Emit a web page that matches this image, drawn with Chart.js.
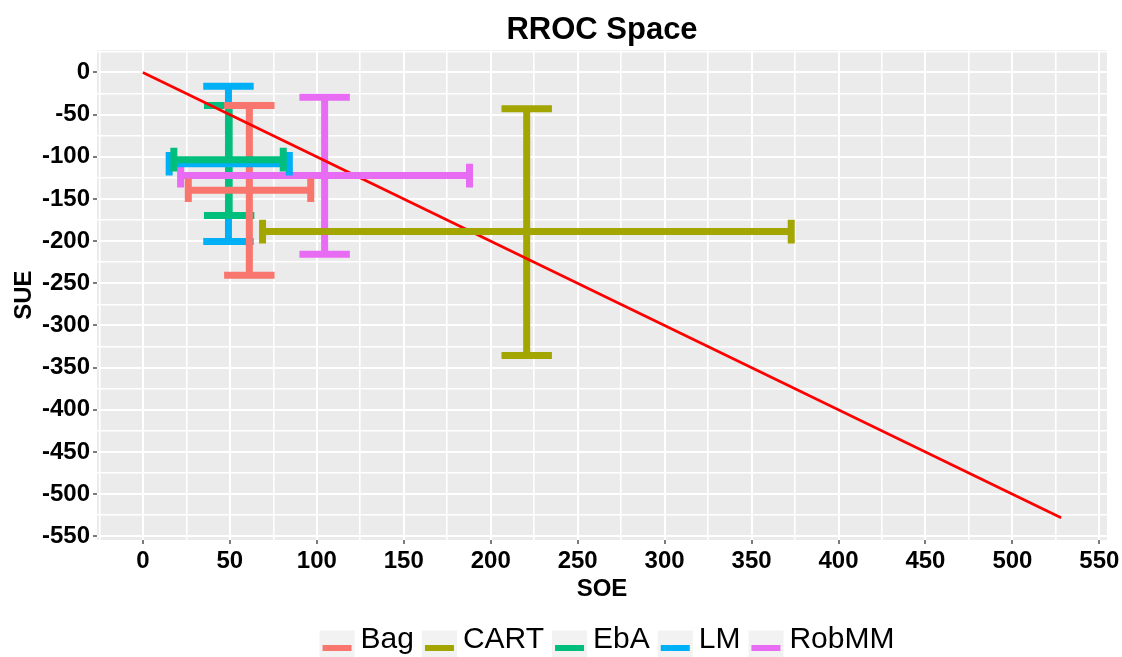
<!DOCTYPE html>
<html>
<head>
<meta charset="utf-8">
<script src="https://cdn.jsdelivr.net/npm/chart.js@4"></script>
<style>
  html, body { margin: 0; padding: 0; background: #fff; }
  #wrap { width: 1122px; height: 657px; }
</style>
</head>
<body>
<div id="wrap"><canvas id="rroc"></canvas></div>
<script>
var models = ['Bag', 'CART', 'EbA', 'LM', 'RobMM'];
var colors = ['#F8766D', '#A3A500', '#00BF7D', '#00B0F6', '#E76BF3'];
// SOE (x) and SUE (y) centre and interval ends per model
var soeMean = [61.2, 220.7, 49.6, 49.2, 104.5];
var soeLow = [26.1, 68.8, 17.8, 15.1, 21.7];
var soeHigh = [96.5, 372.8, 80.7, 84.2, 187.8];
var sueMean = [-139.7, -188.7, -103.4, -108.3, -122.3];
var sueLow = [-240.6, -335.5, -169.7, -200.3, -215.7];
var sueHigh = [-39.1, -43.1, -39.1, -16.2, -29.3];
// diagonal of the RROC space
var diagX = [0, 528];
var diagY = [0, -528];
var xTicks = [0, 50, 100, 150, 200, 250, 300, 350, 400, 450, 500, 550];
var yTicks = [0, -50, -100, -150, -200, -250, -300, -350, -400, -450, -500, -550];

var FONT = "'Liberation Sans', Arial, sans-serif";
Chart.defaults.font.family = FONT;
Chart.defaults.color = '#000';

var capW = 14.5; // half width of caps on vertical bars (SOE units)
var capH = 14;   // half height of caps on horizontal bars (SUE units)
var gap = {x: null, y: null};

function bar(data, color, order) {
  return {
    data: data, borderColor: color, backgroundColor: color,
    borderWidth: 7, borderCapStyle: 'butt', showLine: true,
    pointRadius: 0, pointHoverRadius: 0, fill: false, order: order
  };
}

var datasets = [];
models.forEach(function (m, i) {
  var x = soeMean[i];
  datasets.push(bar([
    {x: x, y: sueLow[i]}, {x: x, y: sueHigh[i]}, gap,
    {x: x - capW, y: sueHigh[i]}, {x: x + capW, y: sueHigh[i]}, gap,
    {x: x - capW, y: sueLow[i]}, {x: x + capW, y: sueLow[i]}
  ], colors[i], 20 + i));
  var y = sueMean[i];
  datasets.push(bar([
    {x: soeLow[i], y: y}, {x: soeHigh[i], y: y}, gap,
    {x: soeLow[i], y: y - capH}, {x: soeLow[i], y: y + capH}, gap,
    {x: soeHigh[i], y: y - capH}, {x: soeHigh[i], y: y + capH}
  ], colors[i], i));
});
datasets.push({
  data: diagX.map(function (v, i) { return {x: v, y: diagY[i]}; }),
  borderColor: '#FF0000', borderWidth: 2.6, showLine: true,
  pointRadius: 0, pointHoverRadius: 0, fill: false, order: 10
});

function gridValues(majors, step) {
  var out = [];
  majors.forEach(function (v) { out.push(v); out.push(v - step); });
  return out.sort(function (a, b) { return a - b; });
}

function axis(majors, step, min, max, extra) {
  var o = {
    type: 'linear', min: min, max: max,
    afterBuildTicks: function (s) {
      s.ticks = gridValues(majors, step).map(function (v) { return {value: v}; });
    },
    ticks: {
      autoSkip: false, maxRotation: 0,
      font: {size: 24, weight: 'bold'}, color: '#000',
      callback: function (v) { return majors.indexOf(v) >= 0 ? String(v) : ''; }
    },
    grid: {
      color: '#FFFFFF',
      lineWidth: function (c) { return c.tick && majors.indexOf(c.tick.value) >= 0 ? 2 : 1.6; },
      drawTicks: true, tickLength: 4, tickWidth: 1.3,
      tickColor: function (c) { return c.tick && majors.indexOf(c.tick.value) >= 0 ? '#333333' : 'rgba(0,0,0,0)'; }
    },
    border: {display: false}
  };
  for (var k in extra) o[k] = extra[k];
  return o;
}

var panelBg = {
  id: 'panelBg',
  beforeDraw: function (chart) {
    var a = chart.chartArea, ctx = chart.ctx;
    ctx.save();
    ctx.fillStyle = '#EBEBEB';
    ctx.fillRect(a.left, a.top, a.right - a.left, a.bottom - a.top);
    ctx.restore();
  }
};

var placeBoxes = {
  id: 'placeBoxes',
  afterLayout: function (chart) {
    var a = chart.chartArea;
    var mid = (a.left + a.right) / 2;
    var t = chart.titleBlock;
    var d = mid - (t.left + t.right) / 2;
    t.left += d; t.right += d;
    var lg = chart.legend;
    var dx = mid + 5 - (lg.left + lg.right) / 2;
    var dy = 617 - lg.top;
    lg.left += dx; lg.right += dx; lg.top += dy; lg.bottom += dy;
    lg.legendHitBoxes.forEach(function (h) { h.left += dx; h.top += dy; });
    chart.scales.x.bottom = 589 + 14.4;
  },
  afterDraw: function (chart) {
    var ctx = chart.ctx;
    ctx.save();
    chart.legend.legendHitBoxes.forEach(function (h, i) {
      var cy = h.top + h.height / 2;
      ctx.fillStyle = '#F2F2F2';
      ctx.fillRect(h.left, cy - 17.5, 35, 35);
      ctx.fillStyle = colors[i];
      ctx.fillRect(h.left + 3, cy - 3, 29, 6);
    });
    ctx.restore();
  }
};

new Chart(document.getElementById('rroc'), {
  type: 'scatter',
  data: {datasets: datasets},
  options: {
    responsive: true,
    maintainAspectRatio: false,
    animation: false,
    events: [],
    layout: {padding: {left: 0, right: 15, top: 0, bottom: 0}},
    plugins: {
      title: {
        display: true, text: 'RROC Space', color: '#000',
        font: {size: 31, weight: 'bold'}, padding: {top: 12, bottom: 1}
      },
      legend: {
        position: 'bottom',
        onClick: null,
        labels: {
          boxWidth: 26, boxHeight: 30, padding: 8,
          font: {size: 30}, color: '#000',
          generateLabels: function () {
            return models.map(function (m, i) {
              return {text: m, fillStyle: 'rgba(0,0,0,0)', strokeStyle: 'rgba(0,0,0,0)',
                      lineWidth: 0, hidden: false, fontColor: '#000', datasetIndex: i};
            });
          }
        }
      },
      tooltip: {enabled: false}
    },
    scales: {
      x: axis(xTicks, 25, -26.4, 554.4, {
        title: {display: true, text: 'SOE', color: '#000', font: {size: 24, weight: 'bold'}, padding: {top: 0, bottom: 0}},
        afterFit: function (s) {
          s.height = s.chart.height - 540 - s.chart.legend.height;
          s.paddingLeft = 0; s.paddingRight = 0;
        }
      }),
      y: axis(yTicks, -25, -554.4, 26.4, {
        title: {display: true, text: 'SUE', color: '#000', font: {size: 24, weight: 'bold'}, padding: {top: 10, bottom: 0}},
        afterFit: function (s) {
          s.width = 97;
          s.paddingTop = 0; s.paddingBottom = 0;
        }
      })
    }
  },
  plugins: [panelBg, placeBoxes]
});
</script>
</body>
</html>
